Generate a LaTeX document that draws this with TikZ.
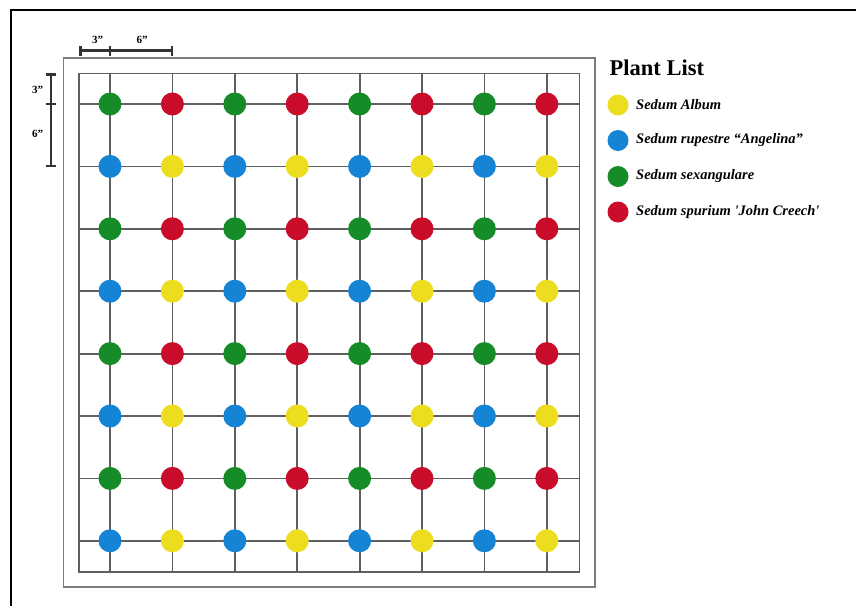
\documentclass[tikz,border=0pt]{standalone}
\usepackage{fontspec}
\setmainfont{Liberation Serif}[Ligatures=TeXOff]
\definecolor{pyellow}{RGB}{236,222,30}
\definecolor{pblue}{RGB}{22,132,212}
\definecolor{pgreen}{RGB}{22,140,40}
\definecolor{pred}{RGB}{200,12,42}
\definecolor{gridgray}{RGB}{95,95,95}
\definecolor{rectgray}{RGB}{125,125,125}
\begin{document}
\begin{tikzpicture}[x=1pt,y=-1pt,
  plant/.style={circle,fill=#1,draw=none,minimum size=23pt,inner sep=0pt},
  legdot/.style={circle,fill=#1,draw=none,minimum size=21pt,inner sep=0pt},
  legtext/.style={anchor=west,font=\fontsize{14.5}{16}\selectfont\bfseries\itshape,inner sep=0pt},
  dimlabel/.style={font=\fontsize{11}{12}\selectfont\bfseries,inner sep=0pt},
  dimline/.style={line width=2.1pt,black!80},
  gridline/.style={line width=1.8pt,gridgray},
  frame/.style={line width=2.4pt,black}]
\useasboundingbox (0,0) rectangle (856,606);
\fill[white] (0,0) rectangle (856,606);
% black frame (cropped)
\draw[frame] (11,606) -- (11,10) -- (856,10);
% outer rectangle
\draw[line width=1.8pt,rectgray] (63.5,58) rectangle (595,587);
% inner rectangle
\draw[gridline] (79,73.5) rectangle (579.5,572);
% grid lines
\foreach \i in {0,...,7} {
  \pgfmathsetmacro{\xx}{110+62.4*\i}
  \pgfmathsetmacro{\yy}{104+62.4*\i}
  \draw[gridline] (\xx,73.5) -- (\xx,572);
  \draw[gridline] (79,\yy) -- (579.5,\yy);
}
% plants
\foreach \r in {0,...,7} {
  \foreach \c in {0,...,7} {
    \pgfmathsetmacro{\xx}{110+62.4*\c}
    \pgfmathsetmacro{\yy}{104+62.4*\r}
    \pgfmathtruncatemacro{\ro}{mod(\r,2)}
    \pgfmathtruncatemacro{\co}{mod(\c,2)}
    \ifnum\ro=0
      \ifnum\co=0 \def\pc{pgreen}\else\def\pc{pred}\fi
    \else
      \ifnum\co=0 \def\pc{pblue}\else\def\pc{pyellow}\fi
    \fi
    \node[plant=\pc] (d-\r-\c) at (\xx,\yy) {};
  }
}
% dimension lines top
\coordinate (t0) at (80.5,50.5);
\coordinate (t1) at (110,50.5);
\coordinate (t2) at (172.4,50.5);
\draw[dimline] (t0) -- (t2);
\foreach \p in {t0,t1,t2} \draw[dimline] ([yshift=-5pt]\p) -- ([yshift=5pt]\p);
\node[dimlabel] (t3) at (97.5,39.5) {3”};
\node[dimlabel] (t6) at (142,39.5) {6”};
% dimension lines left
\coordinate (l0) at (51,74.5);
\coordinate (l1) at (51,104);
\coordinate (l2) at (51,166);
\draw[dimline] (l0) -- (l2);
\foreach \p in {l0,l1,l2} \draw[dimline] ([xshift=-5pt]\p) -- ([xshift=5pt]\p);
\node[dimlabel] (l3) at (37.5,90) {3”};
\node[dimlabel] (l6) at (37.5,134) {6”};
% legend
\node[anchor=west,font=\fontsize{22.5}{25}\selectfont\bfseries,inner sep=0pt] (title) at (609.5,68) {Plant List};
\node[legdot=pyellow] (ly) at (618,105) {};
\node[legtext] (ty) at (636,105) {Sedum Album};
\node[legdot=pblue] (lb) at (618,140.5) {};
\node[legtext] (tb) at (636,140.5) {Sedum rupestre “Angelina”};
\node[legdot=pgreen] (lg) at (618,176.5) {};
\node[legtext] (tg) at (636,176.5) {Sedum sexangulare};
\node[legdot=pred] (lr) at (618,212) {};
\node[legtext] (tr) at (636,212) {Sedum spurium 'John Creech'};
\end{tikzpicture}
\end{document}
